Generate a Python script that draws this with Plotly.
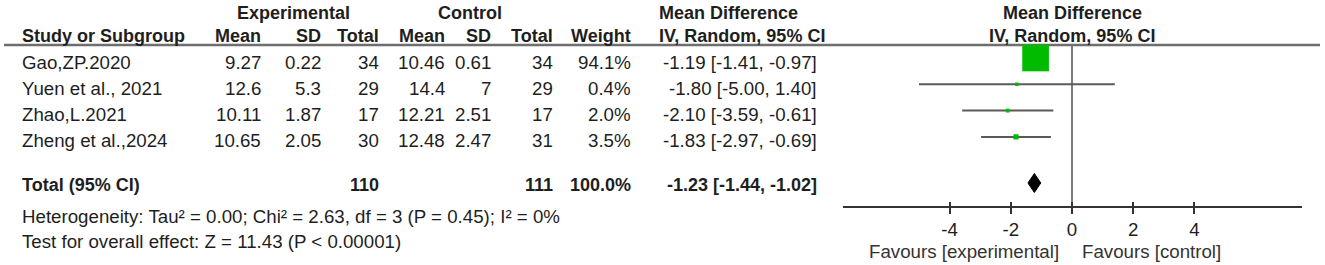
import plotly.graph_objects as go
import math

# ---------------- data ----------------
studies = ["Gao,ZP.2020", "Yuen et al., 2021", "Zhao,L.2021", "Zheng et al.,2024"]
exp_mean = [9.27, 12.6, 10.11, 10.65]
exp_sd = [0.22, 5.3, 1.87, 2.05]
exp_n = [34, 29, 17, 30]
ctl_mean = [10.46, 14.4, 12.21, 12.48]
ctl_sd = [0.61, 7, 2.51, 2.47]
ctl_n = [34, 29, 17, 31]
weights = [94.1, 0.4, 2.0, 3.5]
md = [-1.19, -1.80, -2.10, -1.83]
md_lo = [-1.41, -5.00, -3.59, -2.97]
md_hi = [-0.97, 1.40, -0.61, -0.69]

total_exp_n = 110
total_ctl_n = 111
total_weight = 100.0
total_md = -1.23
total_lo = -1.44
total_hi = -1.02

heterogeneity = "Heterogeneity: Tau\u00b2 = 0.00; Chi\u00b2 = 2.63, df = 3 (P = 0.45); I\u00b2 = 0%"
overall = "Test for overall effect: Z = 11.43 (P < 0.00001)"
tick_vals = [-4, -2, 0, 2, 4]
favours_left = "Favours [experimental]"
favours_right = "Favours [control]"

# ---------------- layout constants ----------------
W, H = 1325, 265
FONT = "Liberation Sans, Arial, sans-serif"
FS = 18.7
FSB = 18
TXT = "#1e1e1e"
GREEN = "#00bb00"

x_zero_px = 1072
px_per_unit = 30.6
half_range = 7.5
dom = [(x_zero_px - half_range * px_per_unit) / W, (x_zero_px + half_range * px_per_unit) / W]

row0_text = 62
row_step = 26.3
marker_shift = -4
total_text_y = 185
total_mark_y = 183
head1_y = 13
head2_y = 36
header_line_y = 45
axis_y = 207
het_y = 216
test_y = 241
fav_y = 251

row_text_y = [row0_text + i * row_step for i in range(len(studies))]
row_mark_y = [y + marker_shift for y in row_text_y]

fig = go.Figure()

# CI lines
for lo, hi, y in zip(md_lo, md_hi, row_mark_y):
    fig.add_trace(go.Scatter(x=[lo, hi], y=[y, y], mode="lines",
                             line=dict(color="#5a5a5a", width=2),
                             hoverinfo="skip", showlegend=False))

# weighted squares
sizes = [max(3.5, 2.75 * math.sqrt(w)) for w in weights]
fig.add_trace(go.Scatter(x=md, y=row_mark_y, mode="markers",
                         marker=dict(symbol="square", size=sizes, color=GREEN,
                                     opacity=1, line=dict(width=0)),
                         hoverinfo="skip", showlegend=False))

# diamond
dh = 9.5
fig.add_trace(go.Scatter(x=[total_lo, total_md, total_hi, total_md, total_lo],
                         y=[total_mark_y, total_mark_y - dh, total_mark_y,
                            total_mark_y + dh, total_mark_y],
                         mode="lines", fill="toself", fillcolor="black",
                         line=dict(color="black", width=1),
                         hoverinfo="skip", showlegend=False))

# zero line
fig.add_shape(type="line", xref="x", yref="y", x0=0, x1=0,
              y0=header_line_y, y1=axis_y, line=dict(color="#7a7a7a", width=2),
              layer="below")
# header line
fig.add_shape(type="line", xref="paper", yref="y", x0=4 / W, x1=1320 / W,
              y0=header_line_y, y1=header_line_y,
              line=dict(color="#6e6e6e", width=2.5), layer="below")


def ann(text, xpx, y, anchor="left", bold=False, size=None, color=TXT):
    if size is None:
        size = FSB if bold else FS
    fig.add_annotation(text=f"<b>{text}</b>" if bold else text,
                       x=xpx / W, xref="paper", y=y, yref="y",
                       xanchor=anchor, yanchor="middle", showarrow=False,
                       font=dict(family=FONT, size=size, color=color))


# headers
ann("Experimental", 293, head1_y, "center", True)
ann("Control", 470, head1_y, "center", True)
ann("Mean Difference", 657, head1_y, "left", True)
ann("Mean Difference", x_zero_px, head1_y, "center", True)
ann("Study or Subgroup", 20, head2_y, "left", True)
col_right = [263, 323, 381, 447, 493, 555, 633]
for txt, xr in zip(["Mean", "SD", "Total", "Mean", "SD", "Total", "Weight"], col_right):
    ann(txt, xr, head2_y, "right", True)
ann("IV, Random, 95% CI", 657, head2_y, "left", True)
ann("IV, Random, 95% CI", x_zero_px, head2_y, "center", True)

# study rows
for i, s in enumerate(studies):
    y = row_text_y[i]
    ann(s, 20, y, "left")
    vals = [str(exp_mean[i]), str(exp_sd[i]), str(exp_n[i]),
            str(ctl_mean[i]), str(ctl_sd[i]), str(ctl_n[i]),
            f"{weights[i]:.1f}%"]
    for v, xr in zip(vals, col_right):
        ann(v, xr, y, "right")
    ann(f"{md[i]:.2f} [{md_lo[i]:.2f}, {md_hi[i]:.2f}]", 819, y, "right")

# total row
ann("Total (95% CI)", 20, total_text_y, "left", True)
ann(str(total_exp_n), col_right[2], total_text_y, "right", True)
ann(str(total_ctl_n), col_right[5], total_text_y, "right", True)
ann(f"{total_weight:.1f}%", col_right[6], total_text_y, "right", True)
ann(f"{total_md:.2f} [{total_lo:.2f}, {total_hi:.2f}]", 819, total_text_y, "right", True)

ann(heterogeneity, 20, het_y, "left")
ann(overall, 20, test_y, "left")

# favours labels
ann(favours_left, 1061, fav_y, "right", color="#333333")
ann(favours_right, 1080, fav_y, "left", color="#333333")

axis_pos = 1 - axis_y / H
common = dict(range=[-half_range, half_range], domain=dom, anchor="free",
              position=axis_pos, showgrid=False, zeroline=False,
              tickvals=tick_vals, tickwidth=2, tickcolor="#333333")
fig.update_layout(
    width=W, height=H,
    margin=dict(l=0, r=0, t=0, b=0),
    paper_bgcolor="white", plot_bgcolor="white",
    xaxis=dict(**common, ticks="outside", ticklen=6, showline=True,
               linecolor="#333333", linewidth=2,
               tickfont=dict(family=FONT, size=FS, color=TXT),
               ticktext=[str(v) for v in tick_vals]),
    xaxis2=dict(**common, overlaying="x", matches="x", ticks="inside",
                ticklen=5, showticklabels=False, showline=False),
    yaxis=dict(range=[H, 0], domain=[0, 1], visible=False, fixedrange=True),
    showlegend=False,
)
# invisible trace so xaxis2 (inner tick halves) is rendered
fig.add_trace(go.Scatter(x=[0], y=[axis_y], xaxis="x2", mode="markers",
                         marker=dict(size=0.1, opacity=0), hoverinfo="skip",
                         showlegend=False))

fig.write_html("out.html",
               config={"displayModeBar": False},
               post_script="document.body.style.margin='0px';"
                           "document.body.style.overflow='hidden';")
